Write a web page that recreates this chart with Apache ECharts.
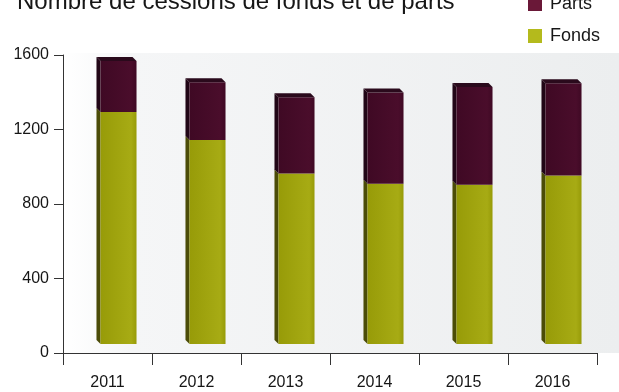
<!DOCTYPE html>
<html>
<head>
<meta charset="utf-8">
<script src="https://cdn.jsdelivr.net/npm/echarts@6/dist/echarts.min.js"></script>
<style>
  html, body { margin: 0; padding: 0; background: #ffffff; }
  #chart { width: 619px; height: 392px; }
</style>
</head>
<body>
<div id="chart"></div>
<script>
// Nombre de cessions par année
const years = ['2011', '2012', '2013', '2014', '2015', '2016'];
const fonds = [1245, 1095, 915, 860, 855, 905];
const parts = [275, 310, 410, 490, 525, 495];
const yTicks = [0, 400, 800, 1200, 1600];

// block geometry for the pseudo-3D columns (pixels)
const SHIFT_X = 11;   // columns stand a little behind the axis plane
const SHIFT_Y = -9;
const DEPTH = 4;      // visible depth of side and top faces
const BAR_RATIO = 0.405;

const palette = {
  Fonds: { front0: '#979b08', front1: '#a7ab14', side: '#4b4c07', legend: '#b4ba1c' },
  Parts: { front0: '#3f0924', front1: '#4a0d2b', side: '#210616', top: '#2a0a1c', legend: '#6a1838' }
};

// cumulative bottoms / tops per layer
const fondsRows = years.map((y, i) => [i, 0, fonds[i]]);
const partsRows = years.map((y, i) => [i, fonds[i], fonds[i] + parts[i]]);

function blockRenderer(name, drawTop) {
  const c = palette[name];
  return function (params, api) {
    const i = api.value(0);
    const lo = api.coord([i, api.value(1)]);
    const hi = api.coord([i, api.value(2)]);
    const w = api.size([1, 0])[0] * BAR_RATIO;
    const x0 = lo[0] - w / 2 + SHIFT_X;
    const x1 = x0 + w;
    const yb = lo[1] + SHIFT_Y;
    const yt = hi[1] + SHIFT_Y;
    const children = [
      {
        type: 'polygon',
        shape: { points: [[x0, yb], [x0, yt], [x0 - DEPTH, yt - DEPTH], [x0 - DEPTH, yb - DEPTH]] },
        style: { fill: c.side }
      },
      {
        type: 'rect',
        shape: { x: x0, y: yt, width: w, height: yb - yt },
        style: {
          fill: new echarts.graphic.LinearGradient(0, 0, 1, 0, [
            { offset: 0, color: c.front0 },
            { offset: 0.85, color: c.front1 },
            { offset: 1, color: c.front0 }
          ])
        }
      }
    ];
    if (drawTop) {
      children.push({
        type: 'polygon',
        shape: { points: [[x0, yt], [x1, yt], [x1 - DEPTH, yt - DEPTH], [x0 - DEPTH, yt - DEPTH]] },
        style: { fill: c.top }
      });
    }
    return { type: 'group', children: children };
  };
}

const chart = echarts.init(document.getElementById('chart'), null, { renderer: 'canvas' });

const textColor = '#161616';
const font = 'Liberation Sans, Arial, Helvetica, sans-serif';

chart.setOption({
  animation: false,
  backgroundColor: '#ffffff',
  textStyle: { fontFamily: font },
  title: {
    text: 'Nombre de cessions de fonds et de parts',
    left: 12,
    top: -15,
    textStyle: { fontSize: 24, fontWeight: 'normal', color: textColor, fontFamily: font }
  },
  legend: {
    data: ['Parts', 'Fonds'],
    orient: 'vertical',
    left: 523,
    top: -10,
    itemWidth: 14,
    itemHeight: 14,
    itemGap: 14,
    icon: 'rect',
    selectedMode: false,
    textStyle: { fontSize: 18, color: textColor, fontFamily: font, padding: [0, 0, 0, 3] }
  },
  graphic: [
    {
      type: 'rect',
      z: -10,
      silent: true,
      shape: { x: 64, y: 53, width: 555, height: 300 },
      style: {
        fill: new echarts.graphic.LinearGradient(0, 0, 1, 0, [
          { offset: 0, color: '#ffffff' },
          { offset: 0.12, color: '#f5f6f7' },
          { offset: 1, color: '#eceeef' }
        ])
      }
    }
  ],
  grid: { left: 63, right: 22, top: 55, bottom: 39, containLabel: false },
  xAxis: {
    type: 'category',
    data: years,
    boundaryGap: true,
    axisLine: { show: true, lineStyle: { color: '#333333', width: 1 } },
    axisTick: { show: true, length: 12, lineStyle: { color: '#333333', width: 1 } },
    axisLabel: { color: textColor, fontSize: 16, margin: 22, fontFamily: font }
  },
  yAxis: {
    type: 'value',
    min: yTicks[0],
    max: yTicks[yTicks.length - 1],
    interval: 400,
    axisLine: { show: true, lineStyle: { color: '#333333', width: 1 } },
    axisTick: { show: true, length: 9, lineStyle: { color: '#333333', width: 1 } },
    splitLine: { show: false },
    axisLabel: {
      color: textColor, fontSize: 16, margin: 14, fontFamily: font,
      formatter: (v) => String(v)
    }
  },
  series: [
    {
      name: 'Fonds',
      type: 'custom',
      renderItem: blockRenderer('Fonds', false),
      encode: { x: 0, y: [1, 2] },
      itemStyle: { color: palette.Fonds.legend },
      data: fondsRows
    },
    {
      name: 'Parts',
      type: 'custom',
      renderItem: blockRenderer('Parts', true),
      encode: { x: 0, y: [1, 2] },
      itemStyle: { color: palette.Parts.legend },
      data: partsRows
    }
  ]
});
</script>
</body>
</html>
